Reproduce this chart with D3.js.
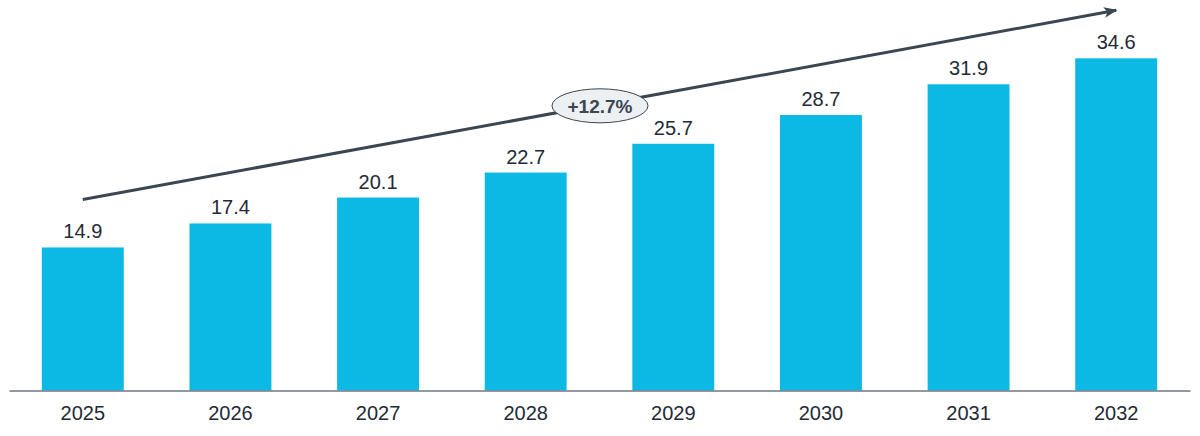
<!DOCTYPE html>
<html>
<head>
<meta charset="utf-8">
<script src="https://cdn.jsdelivr.net/npm/d3@7"></script>
<style>
  body { margin: 0; background: #fff; }
  svg { display: block; font-family: "Liberation Sans", Arial, sans-serif; }
</style>
</head>
<body>
<svg id="SVG_CONTAINER" width="1200" height="436"></svg>
<script>
// data
const years = ["2025", "2026", "2027", "2028", "2029", "2030", "2031", "2032"];
const values = [14.9, 17.4, 20.1, 22.7, 25.7, 28.7, 31.9, 34.6];
const cagrLabel = "+12.7%";
// trend arrow runs from these values (first bar to last bar)
const arrowFrom = 19.9, arrowTo = 39.6;

const width = 1200, height = 436;
const svg = d3.select("#SVG_CONTAINER");

let xScale = d3.scaleBand()
    .domain(years)
    .range([9, 1190])
    .paddingInner(0.445)
    .paddingOuter(0.2225);

let yScale = d3.scaleLinear()
    .domain([0, 40])
    .range([390.5, 6.5]);

// arrow head
svg.append("defs").append("marker")
    .attr("id", "head")
    .attr("viewBox", "0 0 10 10")
    .attr("refX", 9).attr("refY", 5)
    .attr("markerWidth", 4.5).attr("markerHeight", 4.5)
    .attr("orient", "auto")
  .append("path")
    .attr("d", "M0,1 L10,5 L0,9 L2.5,5 Z")
    .attr("fill", "#3b4653");

// bars
svg.selectAll(".bar")
  .data(values)
  .join("rect")
    .attr("class", "bar")
    .attr("x", (d, i) => xScale(years[i]))
    .attr("y", d => yScale(d))
    .attr("width", xScale.bandwidth())
    .attr("height", d => yScale(0) - yScale(d))
    .attr("fill", "#0cb9e5");

// value labels
svg.selectAll(".val")
  .data(values)
  .join("text")
    .attr("class", "val")
    .attr("x", (d, i) => xScale(years[i]) + xScale.bandwidth() / 2)
    .attr("y", d => yScale(d) - 9)
    .attr("text-anchor", "middle")
    .attr("fill", "#1f2a36")
    .style("font-size", "20px")
    .text(d => d.toFixed(1));

// x axis
let xAxis = d3.axisBottom(xScale).tickSize(0).tickPadding(15);
let gx = svg.append("g")
    .attr("transform", "translate(0," + yScale(0) + ")")
    .call(xAxis);
gx.select(".domain").attr("stroke", "#6f7780").attr("stroke-width", 1.5);
gx.selectAll("text")
    .attr("fill", "#1f2a36")
    .style("font-size", "20px")
    .style("font-family", "'Liberation Sans', Arial, sans-serif");

// trend arrow
const x1 = xScale(years[0]) + xScale.bandwidth() / 2,
      x2 = xScale(years[years.length - 1]) + xScale.bandwidth() / 2,
      y1 = yScale(arrowFrom), y2 = yScale(arrowTo);
svg.append("line")
    .attr("x1", x1).attr("y1", y1)
    .attr("x2", x2).attr("y2", y2)
    .attr("stroke", "#3b4653")
    .attr("stroke-width", 3)
    .attr("marker-end", "url(#head)");

// cagr bubble
const cx = 600, cy = y1 + (y2 - y1) * (cx - x1) / (x2 - x1) + 1;
svg.append("ellipse")
    .attr("cx", cx).attr("cy", cy)
    .attr("rx", 48).attr("ry", 17)
    .attr("fill", "#edf0f3")
    .attr("stroke", "#3b4653")
    .attr("stroke-width", 1);
svg.append("text")
    .attr("x", cx).attr("y", cy + 7)
    .attr("text-anchor", "middle")
    .attr("fill", "#3b4653")
    .style("font-size", "19px")
    .style("font-weight", "bold")
    .text(cagrLabel);
</script>
</body>
</html>
